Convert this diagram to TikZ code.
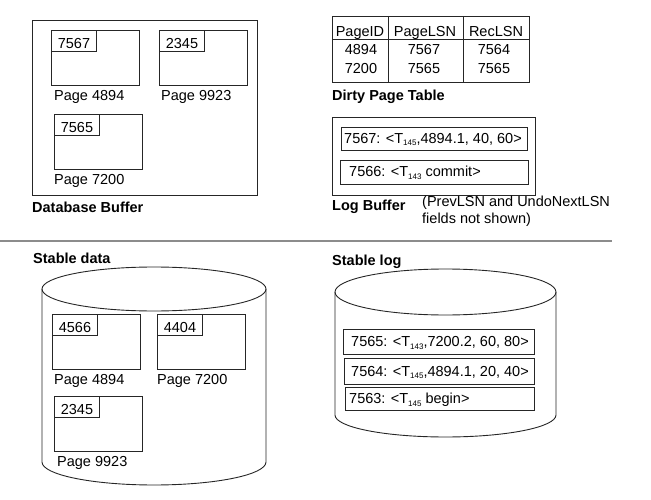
\documentclass[tikz,border=0pt]{standalone}
\usepackage{fontspec}
\setmainfont{Liberation Sans}
\usetikzlibrary{positioning}
\newcommand{\lsub}[1]{\raisebox{-2.5pt}{\fontsize{8}{8}\selectfont #1}}

\begin{document}
\begin{tikzpicture}[x=1pt,y=-1pt,
   font=\fontsize{14.5}{17}\selectfont,
   every node/.style={inner sep=0pt},
   ln/.style={draw=black!85,line width=0.9pt},
   outerbox/.style={ln,anchor=north west},
   pagebox/.style={ln,anchor=north west,minimum width=87.5pt,minimum height=55pt},
   tagbox/.style={ln,anchor=north west,minimum width=45pt,minimum height=21pt,text height=16pt,text depth=0pt},
   pagelabel/.style={anchor=base west},
   recbox/.style={ln,anchor=north west},
   rectext/.style={anchor=base west},
   caption/.style={anchor=base west,font=\fontsize{14.5}{17}\selectfont\bfseries}]
   \useasboundingbox (0,0) rectangle (651,500);

   % database buffer
   \node[outerbox,minimum width=225pt,minimum height=175pt] (dbbuf) at (32,20) {};
   \begin{scope}
    \node[pagebox] (b4894) at (51,30) {};
    \node[tagbox] (b4894tag) at (b4894.north west) {7567};
    \node[pagelabel] (b4894lbl) at ([shift={(3,14.5)}]b4894.south west) {Page 4894};
    \node[pagebox] (b9923) at (159,30) {};
    \node[tagbox] (b9923tag) at (b9923.north west) {2345};
    \node[pagelabel] (b9923lbl) at ([shift={(2,14.5)}]b9923.south west) {Page 9923};
    \node[pagebox] (b7200) at (54,114) {};
    \node[tagbox] (b7200tag) at (b7200.north west) {7565};
    \node[pagelabel] (b7200lbl) at ([shift={(0,14.5)}]b7200.south west) {Page 7200};
   \end{scope}
   \node[caption] (dbcap) at (32,212) {Database Buffer};

   % dirty page table
   \node[outerbox,minimum width=197pt,minimum height=66pt] (dpt) at (332,16) {};
   \draw[ln] (332,39) -- (529,39);
   \draw[ln] (388,16) -- (388,82);
   \draw[ln] (463,16) -- (463,82);
   \begin{scope}[every node/.style={anchor=base,inner sep=0pt}]
    \node (hpid) at (360,37) {PageID};
    \node (hplsn) at (425,37) {PageLSN};
    \node (hrlsn) at (496,37) {RecLSN};
    \node (r1pid) at (361,55) {4894};
    \node (r1plsn) at (424,55) {7567};
    \node (r1rlsn) at (494,55) {7564};
    \node (r2pid) at (361,74) {7200};
    \node (r2plsn) at (424,74) {7565};
    \node (r2rlsn) at (494,74) {7565};
   \end{scope}
   \node[caption] (dptcap) at (332,101) {Dirty Page Table};

   % log buffer
   \node[outerbox,minimum width=203pt,minimum height=78pt] (logbuf) at (332,117) {};
   \node[recbox,minimum width=186pt,minimum height=23pt] (lb1) at (341,127) {};
   \node[rectext] (lb1t) at ([shift={(3,4.5)}]lb1.west) {7567: <T\lsub{145},4894.1, 40, 60>};
   \node[recbox,minimum width=188pt,minimum height=24pt] (lb2) at (340,160) {};
   \node[rectext] (lb2t) at ([shift={(9,4.5)}]lb2.west) {7566: <T\lsub{143} commit>};
   \node[caption] (lbcap) at (332,211) {Log Buffer};
   \node[anchor=base west,align=left] (lbnote) at (422,223) {(PrevLSN and UndoNextLSN\\fields not shown)};

   \draw[draw=black!45,line width=1.8pt] (0,241) -- (612,241);

   % stable data
   \node[caption] (sdcap) at (33,263) {Stable data};
   \draw[ln] (154,289) ellipse [x radius=112pt,y radius=22pt];
   \draw[ln] (42,289) -- (42,462) arc[start angle=180,end angle=360,x radius=112pt,y radius=23pt] -- (266,289);
   \begin{scope}
    \node[pagebox] (s4894) at (52,314) {};
    \node[tagbox] (s4894tag) at (s4894.north west) {4566};
    \node[pagelabel] (s4894lbl) at ([shift={(2,14.5)}]s4894.south west) {Page 4894};
    \node[pagebox] (s7200) at (157,314) {};
    \node[tagbox] (s7200tag) at (s7200.north west) {4404};
    \node[pagelabel] (s7200lbl) at ([shift={(0,14.5)}]s7200.south west) {Page 7200};
    \node[pagebox] (s9923) at (54,396) {};
    \node[tagbox] (s9923tag) at (s9923.north west) {2345};
    \node[pagelabel] (s9923lbl) at ([shift={(3,14.5)}]s9923.south west) {Page 9923};
   \end{scope}

   % stable log
   \node[caption] (slcap) at (332,265) {Stable log};
   \draw[ln] (445.5,292) ellipse [x radius=110.5pt,y radius=23pt];
   \draw[ln] (335,292) -- (335,415) arc[start angle=180,end angle=360,x radius=110.5pt,y radius=22pt] -- (556,292);
   \node[recbox,minimum width=191pt,minimum height=25pt] (sl1) at (343,329) {};
   \node[rectext] (sl1t) at ([shift={(8,5)}]sl1.west) {7565: <T\lsub{143},7200.2, 60, 80>};
   \node[recbox,minimum width=190pt,minimum height=26pt] (sl2) at (344,358) {};
   \node[rectext] (sl2t) at ([shift={(7,5)}]sl2.west) {7564: <T\lsub{145},4894.1, 20, 40>};
   \node[recbox,minimum width=189pt,minimum height=23pt] (sl3) at (345,387) {};
   \node[rectext] (sl3t) at ([shift={(4,5)}]sl3.west) {7563: <T\lsub{145} begin>};
\end{tikzpicture}
\end{document}
